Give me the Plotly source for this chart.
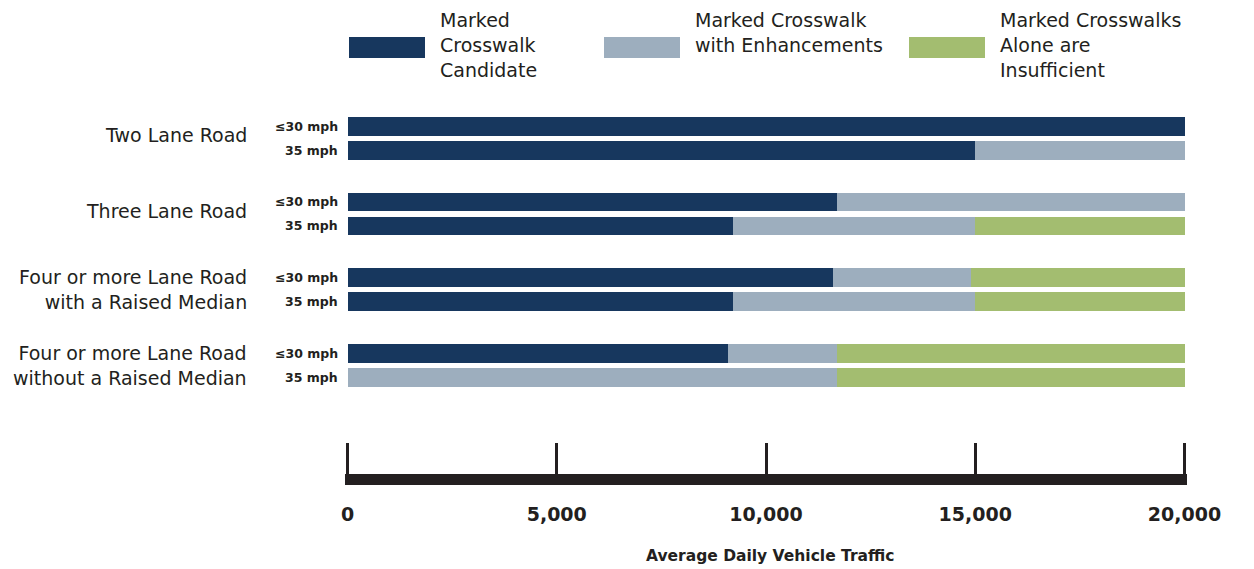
import plotly.graph_objects as go

# ---- data -------------------------------------------------------------
groups = [
    "Two Lane Road",
    "Three Lane Road",
    "Four or more Lane Road<br>with a Raised Median",
    "Four or more Lane Road<br>without a Raised Median",
]
speeds = ["≤30 mph", "35 mph"]

series_names = [
    "Marked Crosswalk Candidate",
    "Marked Crosswalk with Enhancements",
    "Marked Crosswalks Alone are Insufficient",
]
legend_lines = [
    ["Marked", "Crosswalk", "Candidate"],
    ["Marked Crosswalk", "with Enhancements"],
    ["Marked Crosswalks", "Alone are", "Insufficient"],
]

# segment widths (vehicles/day), rows ordered group by group, ≤30 mph then 35 mph
candidate = [20000, 15000, 11700, 9200, 11600, 9200, 9100, 0]
enhancements = [0, 5000, 8300, 5800, 3300, 5800, 2600, 11700]
insufficient = [0, 0, 0, 5000, 5100, 5000, 8300, 8300]

x_ticks = [0, 5000, 10000, 15000, 20000]
x_title = "Average Daily Vehicle Traffic"

# ---- styling ----------------------------------------------------------
colors = ["#17375e", "#9daebe", "#a3bd70"]
ink = "#231f20"
W, H = 1254, 569
L, R, T, B = 345, 67, 110, 95
PW, PH = W - L - R, H - T - B

EDGE_PAD = 2.5                       # px kept beyond 0 and 20,000 so end ticks show
X_MIN, X_MAX = 0, 20000
per_px = (X_MAX - X_MIN) / (PW - 2 * EDGE_PAD)
x_range = [X_MIN - EDGE_PAD * per_px, X_MAX + EDGE_PAD * per_px]

GROUP_STEP = 3.16     # distance between groups, in bar-pair units
BAR_W = 0.79

rows = [(g, s) for g in range(len(groups)) for s in range(len(speeds))]
y_pos = [g * GROUP_STEP + s for g, s in rows]


def px_x(p):
    return (p - L) / PW


def px_y(p):
    return 1 - (p - T) / PH


fig = go.Figure()
for name, vals, col in zip(series_names, [candidate, enhancements, insufficient], colors):
    fig.add_trace(go.Bar(
        x=vals, y=y_pos, orientation="h", name=name,
        marker=dict(color=col, line=dict(width=0)),
        width=BAR_W, showlegend=False,
        hovertemplate=name + ": %{x:,}<extra></extra>",
    ))

annotations = []
# group labels
for g, label in enumerate(groups):
    two_line = "<br>" in label
    annotations.append(dict(
        x=0, y=g * GROUP_STEP + 0.5, xref="x", yref="y",
        text=label, showarrow=False, xanchor="right", yanchor="middle",
        xshift=-99, yshift=0 if two_line else 3, align="right",
        font=dict(family="DejaVu Sans", size=19, color=ink),
    ))
# speed labels
for (g, s), y in zip(rows, y_pos):
    annotations.append(dict(
        x=0, y=y, xref="x", yref="y", text=speeds[s], showarrow=False,
        xanchor="right", yanchor="middle", xshift=-8,
        font=dict(family="DejaVu Sans", size=12.5, color=ink, weight="bold"),
    ))
# axis title
annotations.append(dict(
    x=px_x(770), y=px_y(556), xref="paper", yref="paper", text=x_title,
    showarrow=False, xanchor="center", yanchor="middle",
    font=dict(family="DejaVu Sans", size=15.5, color=ink, weight="bold"),
))

# legend: large swatches with stacked text lines
shapes = []
legend_left = [349, 604, 909]
for left, lines, col in zip(legend_left, legend_lines, colors):
    shapes.append(dict(
        type="rect", xref="paper", yref="paper",
        x0=px_x(left), x1=px_x(left + 76), y0=px_y(58), y1=px_y(37),
        fillcolor=col, line=dict(width=0), layer="above",
    ))
    for i, line in enumerate(lines):
        annotations.append(dict(
            x=px_x(left + 89), y=px_y(20 + 25 * i), xref="paper", yref="paper",
            text=line, showarrow=False, xanchor="left", yanchor="middle",
            font=dict(family="DejaVu Sans", size=19, color=ink),
        ))

first_center = 16.15 / 24
fig.update_layout(
    width=W, height=H,
    margin=dict(l=L, r=R, t=T, b=B, pad=0),
    barmode="stack",
    plot_bgcolor="white", paper_bgcolor="white",
    annotations=annotations, shapes=shapes,
    xaxis=dict(
        range=x_range, showgrid=False, zeroline=False,
        showline=True, linewidth=11, linecolor=ink,
        ticks="inside", ticklen=31, tickwidth=3, tickcolor=ink,
        tickvals=x_ticks, ticktext=[f"{v:,}" for v in x_ticks],
        tickfont=dict(family="DejaVu Sans", size=19, color=ink, weight="bold"),
        ticklabelstandoff=13, fixedrange=True,
    ),
    yaxis=dict(
        range=[PH / 24 - first_center, -first_center],
        visible=False, fixedrange=True,
    ),
)

fig.write_html("out.html")
